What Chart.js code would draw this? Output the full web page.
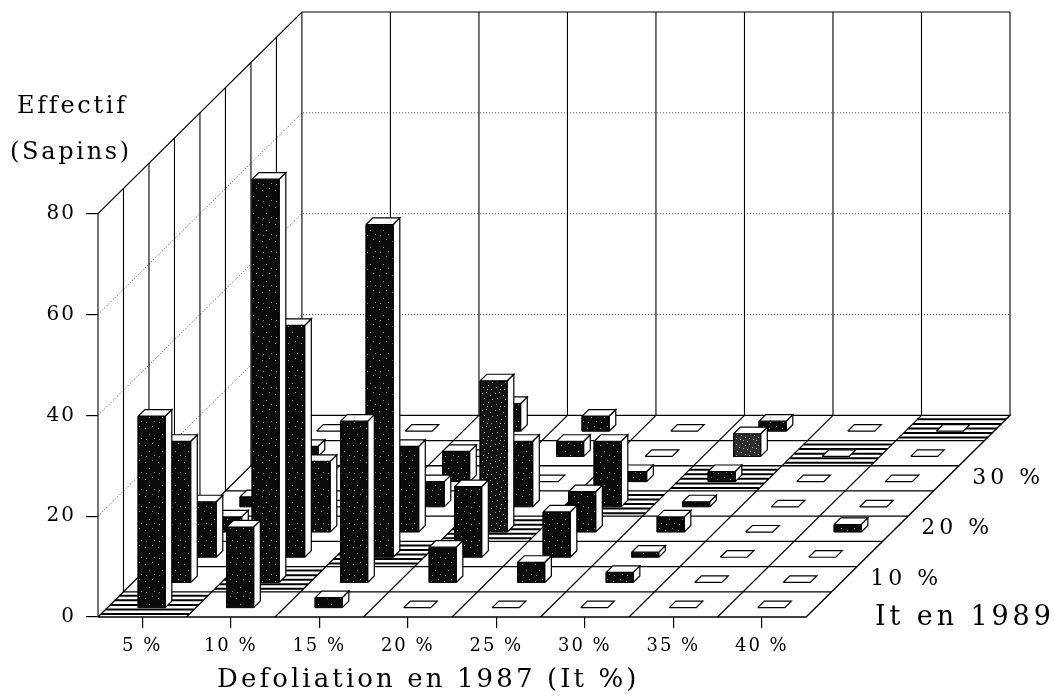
<!DOCTYPE html>
<html>
<head>
<meta charset="utf-8">
<style>html,body{margin:0;padding:0;background:#fff}canvas{display:block}</style>
<script src="https://cdn.jsdelivr.net/npm/chart.js@4"></script>
</head>
<body>
<canvas id="c" width="1055" height="696"></canvas>
<script>
// ---- data -----------------------------------------------------------
const categories = ["5 %","10 %","15 %","20 %","25 %","30 %","35 %","40 %"];
const depthLabels = ["10 %","20 %","30 %"];
const depthLabelRows = [1,3,5];
const yTicks = [0,20,40,60,80];
const xTitle = "Defoliation en 1987 (It %)";
const zTitle = "It en 1989";
const yTitle = ["Effectif","(Sapins)"];
// bar heights, one array per depth row (front to back), one value per column
const row0 = [38, 16, 2, 0, 0, 0, 0, 0];
const row1 = [28, 80, 32, 7, 4, 2, 0, 0];
const row2 = [11, 46, 66, 14, 9, 1, 0, 0];
const row3 = [3, 14, 17, 30, 8, 3, 0, 1.5];
const row4 = [2, 0, 5, 13, 13, 1, 0, 0];
const row5 = [0, 0, 6, 0, 2, 2, 0, 0];
const row6 = [2, 0, 0, 3, 0, 4.5, 0, 0];
const row7 = [0, 0, 5.5, 3, 0, 2, 0, 0];
const rows = [row0,row1,row2,row3,row4,row5,row6,row7];

// ---- oblique projection, in scale units ------------------------------
const NC = categories.length, NR = rows.length, TOP = 80;
const RX = 0.288, RY = 5;
const P = (c,r,v) => ({x: c + r*RX, y: v + r*RY});

// speckled ink texture of the printed bars
function speckle(base, dots, light) {
  const t = document.createElement('canvas');
  t.width = 13; t.height = 17;
  const g = t.getContext('2d');
  g.fillStyle = base; g.fillRect(0,0,13,17);
  g.fillStyle = light;
  dots.forEach(d => g.fillRect(d[0], d[1], 1, 1));
  return g.createPattern(t, 'repeat');
}
const inkDark = speckle('#0a0a0a', [[2,3],[9,1],[6,9],[11,13],[3,14]], '#8a8a8a');
const inkMid = speckle('#141414', [[1,2],[5,1],[9,4],[3,7],[11,8],[7,11],[2,13],[10,15],[6,15]], '#9a9a9a');
const inkGray = speckle('#2e2e2e', [[1,1],[4,3],[8,2],[11,5],[2,6],[6,7],[9,9],[0,10],[4,12],[8,13],[12,14],[2,15],[6,16]], '#aaaaaa');

const datasets = [];
function add(pts, o) {
  o = o || {};
  const i = datasets.length;
  datasets.push({
    data: pts, order: -i, pointRadius: 0, pointHoverRadius: 0, tension: 0,
    borderColor: o.color || '#000', borderWidth: o.w === undefined ? 1.2 : o.w,
    borderDash: o.dash || [], fill: o.fill ? 'shape' : false,
    backgroundColor: o.fill || 'transparent', borderCapStyle: 'butt', borderJoinStyle: 'miter', clip: 4
  });
}
const poly = (pts, fill, w) => add(pts.concat([pts[0]]), {fill: fill, w: w});

// back wall and left wall
for (const t of yTicks) if (t > 0 && t < TOP) {
  add([P(0,0,t),P(0,NR,t),P(NC,NR,t)], {color:'#444', w:1, dash:[1,2]});
}
for (let r = 0; r <= NR; r++) add([P(0,r,0),P(0,r,TOP)], {w: 1.1});
for (let c = 1; c <= NC; c++) add([P(c,NR,0),P(c,NR,TOP)], {w: 1.1});
add([P(0,0,TOP),P(0,NR,TOP),P(NC,NR,TOP)], {w:1.2});

// floor
poly([P(0,0,0),P(NC,0,0),P(NC,NR,0),P(0,NR,0)], '#fff', 1.3);
for (let r = 1; r < NR; r++) add([P(0,r,0),P(NC,r,0)], {w:1.3});
for (let c = 1; c < NC; c++) add([P(c,0,0),P(c,NR,0)], {w:1.2});

// hatched diagonal cells
const hatch = [0.12,0.3,0.48,0.66,0.84];
for (let k = 0; k < NC; k++) for (const f of hatch) add([P(k,k+f,0),P(k+1,k+f,0)], {w:2});

// bars, back to front
const BW = 0.305, D0 = 0.37, D1 = 0.63;
for (let r = NR-1; r >= 0; r--) for (let c = 0; c < NC; c++) {
  const v = rows[r][c];
  const x0 = c + 0.5 - BW/2, x1 = c + 0.5 + BW/2, a = r + D0, b = r + D1;
  if (v > 0) {
    const ink = (c === 5 && r === 6) ? inkGray : (c === 3 && r === 3) ? inkMid : inkDark;
    poly([P(x1,a,0),P(x1,b,0),P(x1,b,v),P(x1,a,v)], '#fff', 1.2);
    poly([P(x0,a,0),P(x1,a,0),P(x1,a,v),P(x0,a,v)], ink, 1);
  }
  poly([P(x0,a,v),P(x1,a,v),P(x1,b,v),P(x0,b,v)], '#fff', 1.2);
}

// ---- text drawn through the scales ----------------------------------
const SERIF = '"DejaVu Serif", serif';
const textPlugin = {
  id: 'text3d',
  beforeDraw(chart) {
    chart.ctx.letterSpacing = '2px';
  },
  afterDraw(chart) {
    const ctx = chart.ctx, sx = chart.scales.x, sy = chart.scales.y;
    ctx.save();
    ctx.fillStyle = '#000';
    ctx.textBaseline = 'middle';
    ctx.textAlign = 'left';
    ctx.letterSpacing = '4px';
    ctx.font = '22px ' + SERIF;
    depthLabels.forEach((t,i) => {
      const p = P(NC, depthLabelRows[i] + 0.5, 0);
      ctx.fillText(t, sx.getPixelForValue(p.x) + 26, sy.getPixelForValue(p.y));
    });
    ctx.font = '27px ' + SERIF;
    ctx.letterSpacing = '3.9px';
    ctx.fillText(zTitle, 875, 618);
    ctx.font = '26px ' + SERIF;
    ctx.letterSpacing = '3.1px';
    ctx.fillText(xTitle, 217, 680);
    ctx.font = '24px ' + SERIF;
    ctx.letterSpacing = '2.7px';
    ctx.fillText(yTitle[0], 17, 107);
    ctx.fillText(yTitle[1], 10, 153);
    ctx.restore();
  }
};

new Chart(document.getElementById('c'), {
  type: 'line',
  data: { datasets },
  plugins: [textPlugin],
  options: {
    responsive: false, animation: false, events: [],
    layout: { padding: { top: 12, right: 45, left: 0, bottom: 0 } },
    plugins: { legend: {display:false}, tooltip: {enabled:false} },
    scales: {
      x: {
        type: 'linear', min: 0, max: NC + NR*RX,
        afterBuildTicks: a => { a.ticks = categories.map((_,i) => ({value: i + 0.5})); },
        afterFit: a => { a.height = 79; a.paddingLeft = 0; a.paddingRight = 0; },
        border: {display:false},
        grid: {drawOnChartArea:false, drawTicks:true, tickLength:11, color:'#000', lineWidth:1.2},
        ticks: {
          autoSkip:false, maxRotation:0, minRotation:0, padding:8, color:'#000',
          font: {family: SERIF, size: 18},
          callback: v => categories[Math.round(v - 0.5)]
        }
      },
      y: {
        type: 'linear', min: 0, max: TOP + NR*RY,
        afterBuildTicks: a => { a.ticks = yTicks.map(v => ({value: v})); },
        afterFit: a => { a.width = 98; a.paddingTop = 0; a.paddingBottom = 0; },
        border: {display:false},
        grid: {drawOnChartArea:false, drawTicks:true, tickLength:12, color:'#000', lineWidth:1.2},
        ticks: {
          autoSkip:false, padding:10, color:'#000',
          font: {family: SERIF, size: 20},
          callback: v => String(v)
        }
      }
    }
  }
});
</script>
</body>
</html>
